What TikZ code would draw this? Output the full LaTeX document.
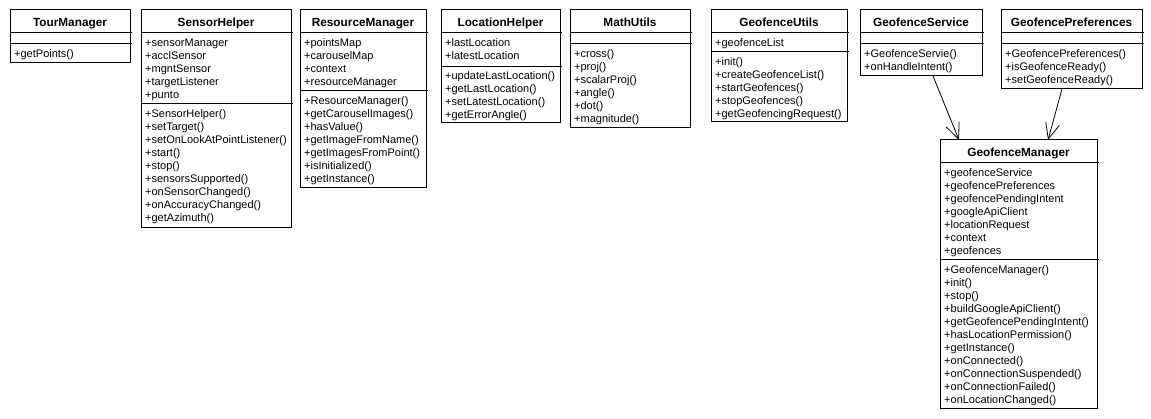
\documentclass[tikz,border=0pt]{standalone}
\usepackage{fontspec}
\setmainfont{Liberation Sans}
\usetikzlibrary{arrows.meta,calc}
\tikzset{
  classbox/.style={draw=black, line width=1pt, fill=white, inner sep=0pt, outer sep=0pt},
  sepline/.style={draw=black, line width=1pt},
  titletext/.style={font=\fontsize{11.8}{14}\selectfont\bfseries, inner sep=0pt, anchor=base},
  membertext/.style={font=\fontsize{11}{13}\selectfont, inner sep=0pt, align=left, anchor=north west},
  assoc/.style={draw=black, line width=0.8pt, -{Straight Barb[length=16pt,width=14pt,line width=0.8pt]}}
}
% #1 name, #2 left, #3 right, #4 top, #5 sep1, #6 sep2, #7 bottom, #8 title
\newcommand\mkclass[8]{%
  \node[classbox, minimum width={#3-#2}, minimum height={#7-#4}, anchor=north west] (#1) at (#2,#4) {};
  \coordinate (#1-s1) at (#2,#5);
  \coordinate (#1-s2) at (#2,#6);
  \draw[sepline] (#1-s1) -- ++(#3-#2+1.5,0);
  \draw[sepline] (#1-s2) -- ++(#3-#2+1.5,0);
  \node[titletext] (#1-t) at ({(#2+#3)/2},{#4+16.5}) {#8};
}
\begin{document}
\begin{tikzpicture}[x=1pt,y=-1pt]
\useasboundingbox (0,0) rectangle (1151,419);
\fill[white] (0,0) rectangle (1151,419);

% TourManager
\mkclass{tm}{10}{130}{10}{33}{44}{63}{TourManager}
\node[membertext] (tm-o) at (14,48.4) {\strut+getPoints()};

% SensorHelper
\mkclass{sh}{141}{291}{10}{33}{104}{228}{SensorHelper}
\node[membertext] (sh-a) at (145,37.4) {\strut+sensorManager\\+acclSensor\\+mgntSensor\\+targetListener\\+punto};
\node[membertext] (sh-o) at (145,108.4) {\strut+SensorHelper()\\+setTarget()\\+setOnLookAtPointListener()\\+start()\\+stop()\\+sensorsSupported()\\+onSensorChanged()\\+onAccuracyChanged()\\+getAzimuth()};

% ResourceManager
\mkclass{rm}{300}{426}{10}{33}{91}{188}{ResourceManager}
\node[membertext] (rm-a) at (304,37.4) {\strut+pointsMap\\+carouselMap\\+context\\+resourceManager};
\node[membertext] (rm-o) at (304,95.4) {\strut+ResourceManager()\\+getCarouselImages()\\+hasValue()\\+getImageFromName()\\+getImagesFromPoint()\\+isInitialized()\\+getInstance()};

% LocationHelper
\mkclass{lh}{441}{560}{10}{33}{67}{123}{LocationHelper}
\node[membertext] (lh-a) at (445,37.4) {\strut+lastLocation\\+latestLocation};
\node[membertext] (lh-o) at (445,70.4) {\strut+updateLastLocation()\\+getLastLocation()\\+setLatestLocation()\\+getErrorAngle()};

% MathUtils
\mkclass{mu}{570}{690}{10}{33}{44}{128}{MathUtils}
\node[membertext] (mu-o) at (574,48.4) {\strut+cross()\\+proj()\\+scalarProj()\\+angle()\\+dot()\\+magnitude()};

% GeofenceUtils
\mkclass{gu}{711}{847}{10}{33}{52}{122}{GeofenceUtils}
\node[membertext] (gu-a) at (715,37.4) {\strut+geofenceList};
\node[membertext] (gu-o) at (715,56.4) {\strut+init()\\+createGeofenceList()\\+startGeofences()\\+stopGeofences()\\+getGeofencingRequest()};

% GeofenceService
\mkclass{gs}{860}{982}{10}{33}{44}{76}{GeofenceService}
\node[membertext] (gs-o) at (864,48.4) {\strut+GeofenceServie()\\+onHandleIntent()};

% GeofencePreferences
\mkclass{gp}{1001}{1142}{10}{33}{44}{89}{GeofencePreferences}
\node[membertext] (gp-o) at (1005,48.4) {\strut+GeofencePreferences()\\+isGeofenceReady()\\+setGeofenceReady()};

% GeofenceManager
\mkclass{gm}{940}{1097}{140}{163}{260}{408}{GeofenceManager}
\node[membertext] (gm-a) at (944,167.4) {\strut+geofenceService\\+geofencePreferences\\+geofencePendingIntent\\+googleApiClient\\+locationRequest\\+context\\+geofences};
\node[membertext] (gm-o) at (944,264.4) {\strut+GeofenceManager()\\+init()\\+stop()\\+buildGoogleApiClient()\\+getGeofencePendingIntent()\\+hasLocationPermission()\\+getInstance()\\+onConnected()\\+onConnectionSuspended()\\+onConnectionFailed()\\+onLocationChanged()};

% associations
\draw[assoc] ($(gs.south west)+(73,0)$) -- ($(gm.north west)+(19,0)$);
\draw[assoc] ($(gp.south west)+(61,0)$) -- ($(gm.north west)+(108,0)$);
\end{tikzpicture}
\end{document}
